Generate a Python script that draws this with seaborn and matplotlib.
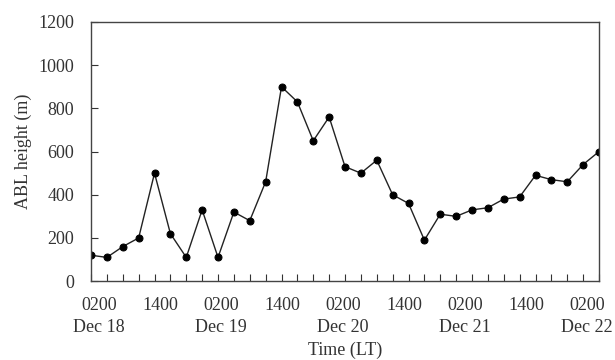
import matplotlib
matplotlib.use('Agg')
import matplotlib.pyplot as plt
import seaborn as sns
import numpy as np
import pandas as pd

sns.set_style("ticks")
plt.rcParams['font.family'] = ['Liberation Serif', 'DejaVu Serif']

# ABL height every 3 h, 0200 Dec 18 -> 0200 Dec 22
abl_height = [120, 110, 160, 200, 500, 220, 110, 330, 110, 320, 280, 460,
              900, 830, 650, 760, 530, 500, 560, 400, 360, 190, 310, 300,
              330, 340, 380, 390, 490, 470, 460, 540, 600]
tick_labels = ["0200\nDec 18", "1400", "0200\nDec 19", "1400", "0200\nDec 20",
               "1400", "0200\nDec 21", "1400", "0200\nDec 22"]
y_ticks = [0, 200, 400, 600, 800, 1000, 1200]

df = pd.DataFrame({"step": np.arange(len(abl_height)), "height": abl_height})
txt = "#333333"

fig = plt.figure(figsize=(6.15, 3.6), dpi=100)
ax = fig.add_axes([0.148, 0.219, 0.826, 0.72])
sns.lineplot(data=df, x="step", y="height", ax=ax, color="#222222", linewidth=1.0,
             marker="o", markersize=5, markeredgecolor="black", markerfacecolor="black")

# small inward tick at every observation
ax.set_xticks(df["step"], minor=True)
ax.tick_params(axis="x", which="minor", direction="in", length=5, width=0.8,
               color="#333333", top=False)
# labels every 12 h, spaced as in the original figure
label_pos = np.linspace(0.5, 31.25, len(tick_labels))
ax.set_xticks(label_pos)
ax.set_xticklabels(tick_labels, fontsize=13, linespacing=1.35, color=txt)
ax.tick_params(axis="x", which="major", length=0, pad=11.5, top=False)

ax.set_yticks(y_ticks)
ax.set_yticklabels([str(v) for v in y_ticks], fontsize=13, color=txt)
ax.tick_params(axis="y", direction="in", length=5, width=0.8, color="#333333",
               pad=12, right=False)
ax.set_xlim(0, len(abl_height) - 1)
ax.set_ylim(0, 1200)

for s in ax.spines.values():
    s.set_visible(True)
    s.set_color("#444444")
    s.set_linewidth(1.0)

ax.set_xlabel("Time (LT)", fontsize=13, labelpad=4, color=txt)
ax.set_ylabel("ABL height (m)", fontsize=13, labelpad=5, color=txt)

plt.savefig("out.png", dpi=100)
plt.close(fig)
